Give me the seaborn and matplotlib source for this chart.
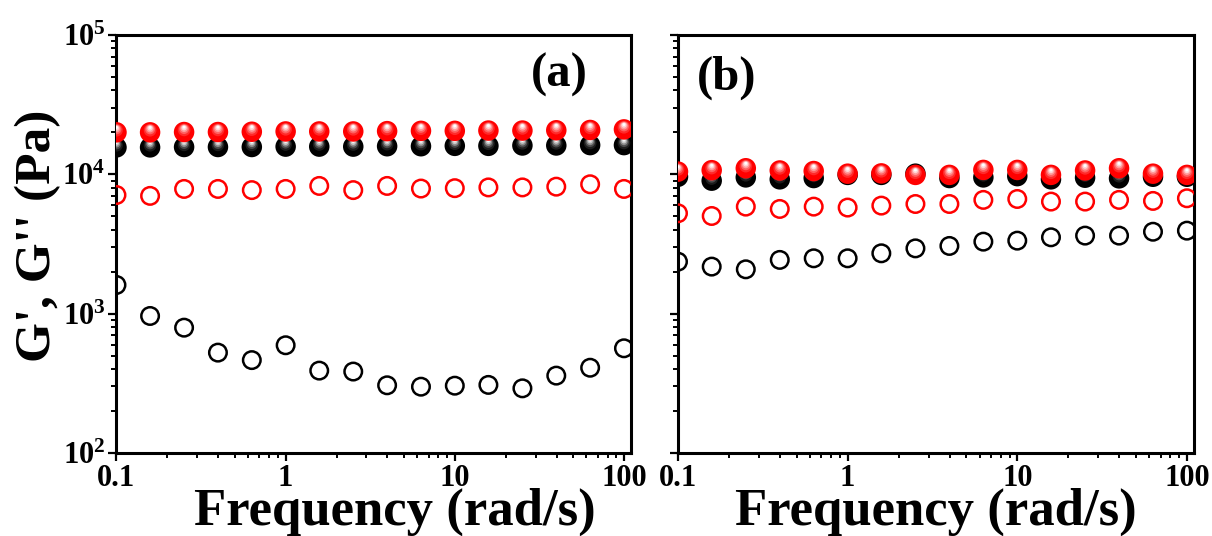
import numpy as np
import pandas as pd
import matplotlib
matplotlib.use("Agg")
import matplotlib.pyplot as plt
import matplotlib.transforms as mtransforms
from matplotlib.ticker import FixedLocator, FixedFormatter, LogLocator, NullFormatter
import seaborn as sns

# Angular frequency sweep (rad/s)
freq = [0.1, 0.158, 0.251, 0.398, 0.631, 1.0, 1.58, 2.51, 3.98, 6.31,
        10.0, 15.8, 25.1, 39.8, 63.1, 100.0]

# Panel (a): storage (G') and loss (G'') moduli, Pa
a_gp_black = [15600, 15600, 15700, 15700, 15700, 15800, 15800, 15800,
              15900, 15900, 16000, 16000, 16100, 16100, 16200, 16200]
a_gp_red = [20000, 20000, 20100, 20100, 20200, 20300, 20300, 20300,
            20400, 20500, 20500, 20600, 20600, 20700, 20800, 21000]
a_gpp_red = [7100, 7000, 7850, 7850, 7700, 7850, 8250, 7700,
             8250, 7900, 7950, 8050, 8050, 8150, 8480, 7850]
a_gpp_black = [1606, 962, 793, 525, 464, 593, 390, 384,
               306, 299, 304, 308, 291, 359, 409, 564]

# Panel (b)
b_gp_black = [9600, 9000, 9500, 9200, 9400, 9900, 9900, 10100,
              9400, 9500, 9700, 9200, 9450, 9350, 9600, 9600]
b_gp_red = [10450, 10700, 11050, 10650, 10550, 10100, 10150, 9900,
            9900, 10750, 10750, 9900, 10650, 11050, 10100, 9900]
b_gpp_red = [5250, 5020, 5860, 5640, 5860, 5770, 5960, 6120,
             6120, 6550, 6650, 6370, 6370, 6550, 6440, 6730]
b_gpp_black = [2360, 2175, 2080, 2430, 2495, 2495, 2710, 2940,
               3060, 3285, 3340, 3530, 3630, 3630, 3870, 3940]

x_ticks = [0.1, 1, 10, 100]
x_tick_labels = ["0.1", "1", "10", "100"]
y_ticks = [1e2, 1e3, 1e4, 1e5]
y_tick_labels = [r"$\mathbf{10^{2}}$", r"$\mathbf{10^{3}}$",
                 r"$\mathbf{10^{4}}$", r"$\mathbf{10^{5}}$"]
panel_tags = ["(a)", "(b)"]
x_label = "Frequency (rad/s)"
y_label = "G', G'' (Pa)"

sns.set_theme(style="ticks")
plt.rcParams["font.family"] = ["Liberation Serif", "DejaVu Serif"]
plt.rcParams["font.weight"] = "bold"
plt.rcParams["mathtext.fontset"] = "custom"
plt.rcParams["mathtext.rm"] = "Liberation Serif:bold"
plt.rcParams["mathtext.bf"] = "Liberation Serif:bold"
plt.rcParams["mathtext.it"] = "Liberation Serif:bold"
for key in ["text.color", "axes.labelcolor", "xtick.color", "ytick.color",
            "axes.edgecolor", "xtick.labelcolor", "ytick.labelcolor"]:
    plt.rcParams[key] = "black"

DPI = 100
fig = plt.figure(figsize=(12.12, 5.36), dpi=DPI)
ax_a = fig.add_axes([0.0961, 0.1549, 0.4245, 0.7799])
ax_b = fig.add_axes([0.5594, 0.1549, 0.4257, 0.7799])

BALL_PX = 20.5
BALL_S = (BALL_PX * 0.72) ** 2
RING_S = (17.5 * 0.72) ** 2
RING_LW = 2.5 * 0.72

red_shades = ["#ff0000", "#ff2a2a", "#ff6262", "#ff9c9c", "#ffd6d6", "#ffffff"]
black_shades = ["#000000", "#1c1c1c", "#4a4a4a", "#8a8a8a", "#c8c8c8", "#f4f4f4"]
shade_frac = [1.0, 0.62, 0.48, 0.36, 0.25, 0.14]


def shaded_balls(ax, x, y, shades):
    df = pd.DataFrame({"x": x, "y": y})
    for frac, col in zip(shade_frac, shades):
        dy = (BALL_PX / 2) * (1 - frac) * 0.55
        tr = mtransforms.offset_copy(ax.transData, fig=fig, x=0, y=dy, units="dots")
        sns.scatterplot(data=df, x="x", y="y", ax=ax, s=BALL_S * frac ** 2,
                        color=col, edgecolor="none", linewidth=0,
                        transform=tr, legend=False, zorder=3)


def rings(ax, x, y, col):
    df = pd.DataFrame({"x": x, "y": y})
    sns.scatterplot(data=df, x="x", y="y", ax=ax, s=RING_S, marker="o",
                    facecolor="none", edgecolor=col, linewidth=RING_LW,
                    legend=False, zorder=3)


panels = [
    (ax_a, a_gp_black, a_gp_red, a_gpp_black, a_gpp_red),
    (ax_b, b_gp_black, b_gp_red, b_gpp_black, b_gpp_red),
]

for i, (ax, gp_k, gp_r, gpp_k, gpp_r) in enumerate(panels):
    rings(ax, freq, gpp_k, "black")
    rings(ax, freq, gpp_r, "red")
    shaded_balls(ax, freq, gp_k, black_shades)
    shaded_balls(ax, freq, gp_r, red_shades)

    ax.set_xscale("log")
    ax.set_yscale("log")
    ax.set_xlim(0.1, 110)
    ax.set_ylim(1e2, 1e5)

    ax.xaxis.set_major_locator(FixedLocator(x_ticks))
    ax.xaxis.set_major_formatter(FixedFormatter(x_tick_labels))
    ax.xaxis.set_minor_locator(LogLocator(base=10, subs=np.arange(2, 10)))
    ax.xaxis.set_minor_formatter(NullFormatter())
    ax.yaxis.set_major_locator(FixedLocator(y_ticks))
    ax.yaxis.set_minor_locator(LogLocator(base=10, subs=np.arange(2, 10)))
    ax.yaxis.set_minor_formatter(NullFormatter())
    if i == 0:
        ax.yaxis.set_major_formatter(FixedFormatter(y_tick_labels))
    else:
        ax.yaxis.set_major_formatter(NullFormatter())

    ax.tick_params(axis="both", which="major", direction="out", length=6,
                   width=1.6, labelsize=22, pad=2, color="black",
                   labelcolor="black")
    ax.tick_params(axis="both", which="minor", direction="out", length=3.5,
                   width=1.4, color="black")
    ax.tick_params(top=False, right=False)
    for lab in ax.get_xticklabels() + ax.get_yticklabels():
        lab.set_fontweight("bold")

    for sp in ax.spines.values():
        sp.set_visible(True)
        sp.set_linewidth(2.2)
        sp.set_color("black")

    ax.set_xlabel(x_label, fontsize=38, fontweight="bold", color="black")
    ax.set_ylabel("")
    ax.grid(False)

ax_a.set_ylabel(y_label, fontsize=37, fontweight="bold", color="black")
ax_a.yaxis.set_label_coords(-0.108, 0.52)
ax_a.xaxis.set_label_coords(0.541, -0.084)
ax_b.xaxis.set_label_coords(0.5, -0.084)

ax_a.text(0.86, 0.904, panel_tags[0], transform=ax_a.transAxes, fontsize=35,
          fontweight="bold", ha="center", va="center", color="black")
ax_b.text(0.094, 0.898, panel_tags[1], transform=ax_b.transAxes, fontsize=35,
          fontweight="bold", ha="center", va="center", color="black")

fig.savefig("out.png", dpi=DPI)
